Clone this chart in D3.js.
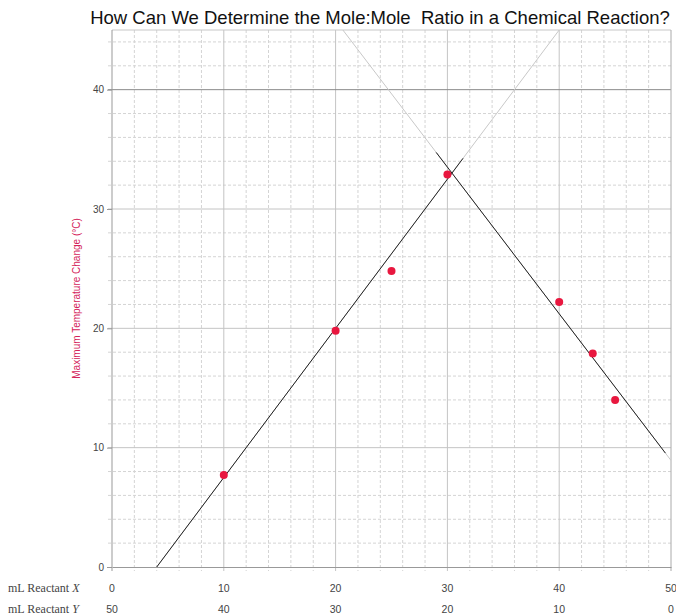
<!DOCTYPE html>
<html>
<head>
<meta charset="utf-8">
<script src="https://cdn.jsdelivr.net/npm/d3@7"></script>
<style>
  body { margin: 0; background: #fff; }
  svg { display: block; }
</style>
</head>
<body>
<svg width="676" height="615"></svg>
<script>
// data
var volX = [10, 20, 25, 30, 40, 43, 45];
var tempChange = [7.7, 19.8, 24.8, 32.9, 22.2, 17.9, 14.0];
var xTicks = [0, 10, 20, 30, 40, 50];
var yTicks = [0, 10, 20, 30, 40];
var totalVolume = 50;

// best-fit lines: slope, intercept, full extent, dark part
var fitSlope = [1.25, -1.229];
var fitIntercept = [-5, 70.38];
var fitFrom = [4, 20.65];
var fitTo = [40.1, 50];
var darkFrom = [4, 29.0];
var darkTo = [31.4, 49.5];

var svg = d3.select("svg"),
    margin = {top: 30, right: 5, bottom: 48, left: 112},
    width = +svg.attr("width") - margin.left - margin.right,
    height = +svg.attr("height") - margin.top - margin.bottom,
    g = svg.append("g").attr("transform", "translate(" + margin.left + "," + margin.top + ")");

var x = d3.scaleLinear().domain([0, 50]).range([0, width]);
var y = d3.scaleLinear().domain([0, 45]).range([height, 0]);

// minor grid
g.append("g")
  .selectAll("line")
  .data(d3.range(2, 50, 2).filter(function(d) { return d % 10 != 0; }))
  .enter().append("line")
    .attr("x1", function(d) { return x(d); })
    .attr("x2", function(d) { return x(d); })
    .attr("y1", 0)
    .attr("y2", height + 4)
    .attr("stroke", "#d4d4d4")
    .attr("stroke-dasharray", "3,2");
g.append("g")
  .selectAll("line")
  .data(d3.range(2, 46, 2).filter(function(d) { return d % 10 != 0; }))
  .enter().append("line")
    .attr("x1", -4)
    .attr("x2", width)
    .attr("y1", function(d) { return y(d); })
    .attr("y2", function(d) { return y(d); })
    .attr("stroke", "#d4d4d4")
    .attr("stroke-dasharray", "3,2");

// major grid
g.append("g")
  .selectAll("line")
  .data(xTicks.slice(1, -1))
  .enter().append("line")
    .attr("x1", function(d) { return x(d); })
    .attr("x2", function(d) { return x(d); })
    .attr("y1", 0)
    .attr("y2", height + 4)
    .attr("stroke", "#c4c4c4");
g.append("g")
  .selectAll("line")
  .data(yTicks.slice(1))
  .enter().append("line")
    .attr("x1", -4)
    .attr("x2", width)
    .attr("y1", function(d) { return y(d); })
    .attr("y2", function(d) { return y(d); })
    .attr("stroke", function(d) { return d == 40 ? "#8a8a8a" : "#c4c4c4"; });

// top and right border
g.append("line")
  .attr("x1", 0).attr("x2", width)
  .attr("y1", 0).attr("y2", 0)
  .attr("stroke", "#c8c8c8");
g.append("line")
  .attr("x1", width).attr("x2", width)
  .attr("y1", 0).attr("y2", height + 4)
  .attr("stroke", "#aaa");

// axes
g.append("g")
    .attr("transform", "translate(0," + height + ")")
    .call(d3.axisBottom(x).tickValues([]).tickSizeOuter(0))
    .select(".domain").attr("stroke", "#999");
g.append("g")
    .call(d3.axisLeft(y).tickValues(yTicks).tickSize(5).tickSizeOuter(0).tickPadding(3))
    .call(function(a) {
      a.select(".domain").attr("stroke", "#999").attr("d", "M0," + (height + 4) + "V0");
      a.selectAll(".tick line").attr("stroke", "#999");
      a.selectAll("text").attr("font-family", "Liberation Sans, Arial, sans-serif")
        .attr("font-size", 10).attr("fill", "#444");
    });

// two rows of volume labels
var rows = g.append("g")
    .attr("font-family", "Liberation Sans, Arial, sans-serif")
    .attr("font-size", 10.5)
    .attr("fill", "#444")
    .attr("text-anchor", "middle");
rows.selectAll(".vx")
  .data(xTicks)
  .enter().append("text")
    .attr("class", "vx")
    .attr("x", function(d) { return x(d); })
    .attr("y", height + 25)
    .text(function(d) { return d; });
rows.selectAll(".vy")
  .data(xTicks)
  .enter().append("text")
    .attr("class", "vy")
    .attr("x", function(d) { return x(d); })
    .attr("y", height + 46)
    .text(function(d) { return totalVolume - d; });

var rowLabels = [["mL Reactant ", "X"], ["mL Reactant ", "Y"]];
svg.append("g")
    .attr("font-family", "Liberation Serif, Times New Roman, serif")
    .attr("font-size", 12)
    .attr("fill", "#444")
  .selectAll("text")
  .data(rowLabels)
  .enter().append("text")
    .attr("x", 8)
    .attr("y", function(d, i) { return margin.top + height + 25 + i * 21; })
    .each(function(d) {
      var t = d3.select(this);
      t.append("tspan").text(d[0]);
      t.append("tspan").attr("font-style", "italic").text(d[1]);
    });

// fit lines
svg.append("clipPath").attr("id", "plotclip")
  .append("rect").attr("width", width).attr("height", height);
var fits = g.append("g").attr("clip-path", "url(#plotclip)");
fitSlope.forEach(function(m, i) {
  var b = fitIntercept[i];
  fits.append("line")
    .attr("x1", x(fitFrom[i])).attr("y1", y(m * fitFrom[i] + b))
    .attr("x2", x(fitTo[i])).attr("y2", y(m * fitTo[i] + b))
    .attr("stroke", "#c8c8c8")
    .attr("stroke-width", 1);
  fits.append("line")
    .attr("x1", x(darkFrom[i])).attr("y1", y(m * darkFrom[i] + b))
    .attr("x2", x(darkTo[i])).attr("y2", y(m * darkTo[i] + b))
    .attr("stroke", "#222")
    .attr("stroke-width", 1);
});

// data points
g.append("g")
  .selectAll("circle")
  .data(volX)
  .enter().append("circle")
    .attr("cx", function(d) { return x(d); })
    .attr("cy", function(d, i) { return y(tempChange[i]); })
    .attr("r", 4)
    .attr("fill", "#e8173f");

// y title
svg.append("text")
    .attr("transform", "translate(80," + (margin.top + y(22.5)) + ") rotate(-90)")
    .attr("text-anchor", "middle")
    .attr("font-family", "Liberation Sans, Arial, sans-serif")
    .attr("font-size", 10)
    .attr("fill", "#d4235a")
    .text("Maximum Temperature Change (°C)");

// title
svg.append("text")
    .attr("x", 380)
    .attr("y", 24)
    .attr("text-anchor", "middle")
    .attr("font-family", "Liberation Sans, Arial, sans-serif")
    .attr("font-size", 18.5)
    .attr("fill", "#111")
    .style("white-space", "pre")
    .text("How Can We Determine the Mole:Mole  Ratio in a Chemical Reaction?");
</script>
</body>
</html>
